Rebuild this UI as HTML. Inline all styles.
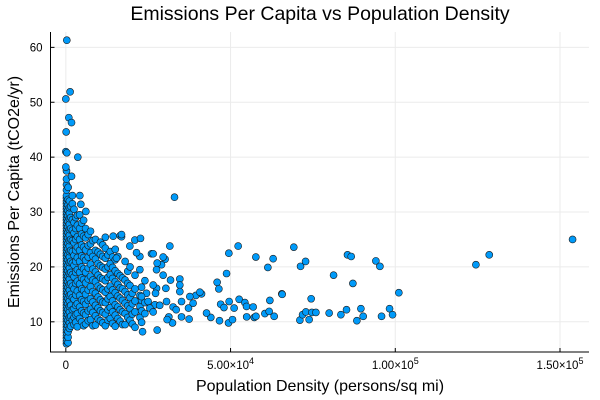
<!DOCTYPE html>
<html><head><meta charset="utf-8"><style>
body{margin:0;background:#fff}
svg{display:block;font-family:"Liberation Sans","DejaVu Sans",sans-serif}
</style></head><body>
<svg id="chart" width="600" height="400" viewBox="0 0 600 400" xmlns="http://www.w3.org/2000/svg">
<rect width="600" height="400" fill="#fff"/>
<text x="320" y="20" text-anchor="middle" font-size="19.5" fill="#000">Emissions Per Capita vs Population Density</text>
<g id="grid"></g>
<g id="points"></g>
<g id="axes"></g>
<text x="320" y="391" text-anchor="middle" font-size="16">Population Density (persons/sq mi)</text>
<text transform="translate(19,192) rotate(-90)" text-anchor="middle" font-size="16">Emissions Per Capita (tCO2e/yr)</text>
</svg>
<script>
const xTicks = [0, 50000, 100000, 150000];
const xTickMant = ["0", "5.00", "1.00", "1.50"];
const xTickExp = ["", "4", "5", "5"];
const yTicks = [10, 20, 30, 40, 50, 60];
const outlierDensity = [300,1300,0,910,1730,100,0,300,3640,0,1730,4250,4550,6070,
69200,71250,72770,65570,74470,71040,71860,72860,73860,74680,75900,79930,81270,83490,85200,85500,86620,87130,88340,89560,90260,94110,95330,95830,98260,99170,101080,124470,128520,153810,
49480,52310,57680,62930,61320,48790,45930,46450,65660,61930,52610,51090,54340,54850,56860,54900,57200,57700,60420,61720,63240,49580,47000,48000,49380,50590,46650,44010,42710,41190,39460,40680,37640,37240,38640,35120,37430,35120,32570,32990,31570,34600,34600,34600,31780,30140,29540,29050,27530,27730,26010,26510,29540,30360,27530,27230,26510,30570,31270,32380,30750,27730,23290,27020,24990,24490,22980,22470,22470,20950,22670,19430,16910,14370,16910,15380,21460,25500,26500,28500,33500];
const outlierEmissions = [61.3,51.9,50.6,47.2,46.3,44.6,41,40.8,40,38.2,36.5,33,31.4,30.1,
23.6,20.1,21,15.1,14.2,10.3,11.3,11.8,10.4,11.7,11.7,11.6,18.5,11.3,12.2,22.2,21.9,17,10.2,12.4,11,21.1,20.1,11,12.4,11.3,15.3,20.4,22.2,25,
22.5,23.8,21.8,21.5,19.9,18.8,17.2,16,15,13.9,14.1,12.5,13.5,12.8,12.7,10.9,10.8,11,11.5,11.9,11,13.7,13.2,12.6,9.8,10.4,10.2,10.8,11.6,15.1,14.8,15.4,14.6,12.5,13.4,13.7,10.5,10.9,12.7,32.7,23.8,17.8,16.7,15.5,17.6,21.4,21.8,20.4,19.5,20.7,22.4,22.4,18.5,16.1,16.1,15.2,16.7,13.7,10.9,9.8,10.4,8.5,8.2,13.1,13.7,15.2,14.6,19.5,21.9,24.9,25.2,23.8,25.5,25.6,25.9,21.6,22.6,12.5,11.8,13,12.2];
const columnDensity = [200,700,1100,1500,2000,2500,3000,3500,4200,4800,5400,6000,6800,7500,8200,9000,9800,10500,11200,12000,12800,13500,14200,15000,15800,16500,17200,18000,18800,19500,20200,21000,22500,23000,24000];
const columnEmissions = [
[6,6.5,7,7.5,8,8.5,9,9.5,10,10.5,11,11.5,12,12.5,13,13.5,14,14.5,15,15.5,16,16.5,17,17.5,18,18.5,19,19.5,20,20.5,21,21.5,22,22.5,23,23.5,24,24.5,25,25.5,26,26.5,27,27.5,28,28.5,29,29.5,30,30.5,31,31.5,32,32.5,33,34,35,36,37.5],
[6.2,7.2,8.2,9.3,10.3,11.3,12.3,13.3,14.3,15.3,16.3,17.3,18.3,19.3,20.3,21.3,22.3,23.3,24.3,25.3,26.3,27.3,28.3,29.3,30.3,31.3,32.3,34.5],
[8.8,9.8,10.8,11.8,12.8,13.8,14.8,15.8,16.8,17.8,18.8,19.8,20.8,21.8,22.8,23.8,24.8,25.8,26.8,27.8,28.8,29.8,30.8,32],
[9.2,11,13,15,17,19,21,23,25,27,29,31],
[10.3,12.2,14.4,16.5,18.6,20.7,22.8,24.8,26.7,28.6,31.5,33],
[9.5,10.8,12.4,14.1,16,18.2,20.3,22.1,24.4,26.2,28.1,30.5],
[9.9,11.3,13,14.9,17,19,21,23,25,27,29],
[9.1,11.5,13.3,15.6,17.4,19.5,21.7,23.6,25.5,27.6,29.4],
[10.6,12.7,14.8,16.9,19,21,23,25,27,29.5],
[10,12,14,16,18,20,22,24,26,28],
[9.3,11.6,13.7,15.7,17.7,19.6,21.7,23.6,25.6,28.5],
[9.6,11.3,13.2,15,17.1,19,21.2,23.1,25.3,27],
[10.2,12,13.9,15.8,17.8,19.8,21.8,23.9,25.9],
[10.4,12.3,14.2,16.4,18.3,20.5,22.6,24.2,26.5],
[9.3,11.7,13.6,15.5,17.6,19.6,21.9,24.8],
[9.4,11.1,13,15.2,17.3,19.1,21.4,23,25],
[10.5,12.5,14.5,16.5,18.5,20.6,22.7],
[10.2,12,14,16.1,18,20.2,22.3,24.5],
[9.8,11.7,13.6,15.8,17.8,19.9,21.9,24],
[9.3,11.4,13.5,15.4,17.5,19.6,21.6,23.4,25.4],
[10.3,12.2,14.2,16,18.1,20,22.2],
[10.6,12.6,14.6,16.5,18.6,20.6,22.8],
[9.7,11.8,13.8,15.8,17.9,19.9,21.8],
[9.2,11.2,13.1,15.3,17.3,19.3,21.3,23.2],
[10.6,12.7,14.7,16.8,18.8,21.9],
[10.1,12.2,14.3,16.2,18.4,25.7],
[9.5,11.8,13.9,16,18],
[9.5,11.5,13.4,15.5,17.6,21],
[10.8,12.9,14.9,17,19.2],
[10.3,12.4,14.4,16.6,20],
[9.6,11.4,13.3,15.2],
[9,11.8,13.8,16,18.5],
[10.8,12.8,14.8],
[9.9,12,13.9,16.3],
[11.5,13.5,17.5]
];
const NS="http://www.w3.org/2000/svg";
const L=50.5,R=589,T=32,B=352;
const X0=-4650,X1=158800,Y0=4.5,Y1=62.8;
function sx(v){return L+(v-X0)/(X1-X0)*(R-L);}
function sy(v){return B-(v-Y0)/(Y1-Y0)*(B-T);}
function mk(tag,attrs,parent){const e=document.createElementNS(NS,tag);for(const k in attrs)e.setAttribute(k,attrs[k]);parent.appendChild(e);return e;}
const grid=document.getElementById('grid'),axes=document.getElementById('axes'),pts=document.getElementById('points');
xTicks.forEach((t,i)=>{
  const g=mk('line',{x1:sx(t),x2:sx(t),y1:T,y2:B,stroke:'#ebebeb','stroke-width':1},grid);
  
  
  const tk=mk('line',{x1:sx(t),x2:sx(t),y1:B,y2:B-4,stroke:'#000','stroke-width':1},axes);
  
  
  const tx=mk('text',{x:sx(t),y:369,'text-anchor':'middle','font-size':11.5},axes);
  
  
  if(xTickExp[i]){tx.textContent=xTickMant[i]+'×10';const s=mk('tspan',{dy:-5,'font-size':9},tx);s.textContent=xTickExp[i];}
  else tx.textContent=xTickMant[i];
});
yTicks.forEach(t=>{
  const g=mk('line',{x1:L,x2:R,y1:sy(t),y2:sy(t),stroke:'#ebebeb','stroke-width':1},grid);
  
  
  const tk=mk('line',{x1:L,x2:L+4,y1:sy(t),y2:sy(t),stroke:'#000','stroke-width':1},axes);
  
  
  const tx=mk('text',{x:L-8,y:sy(t)+4,'text-anchor':'end','font-size':11.5},axes);
  
  
  tx.textContent=String(t);
});
const ax=mk('path',{d:`M${L},${T}V${B}H${R}`,fill:'none',stroke:'#000','stroke-width':1},axes);


function dot(x,y){
  const c=mk('circle',{cx:sx(x),cy:sy(y),r:3.5,fill:'#009AF9',stroke:'#1a1a1a','stroke-width':0.6},pts);
  
  
}
columnDensity.forEach((x,i)=>columnEmissions[i].forEach(y=>dot(x,y)));
outlierDensity.forEach((x,i)=>dot(x,outlierEmissions[i]));
</script>
</body></html>
